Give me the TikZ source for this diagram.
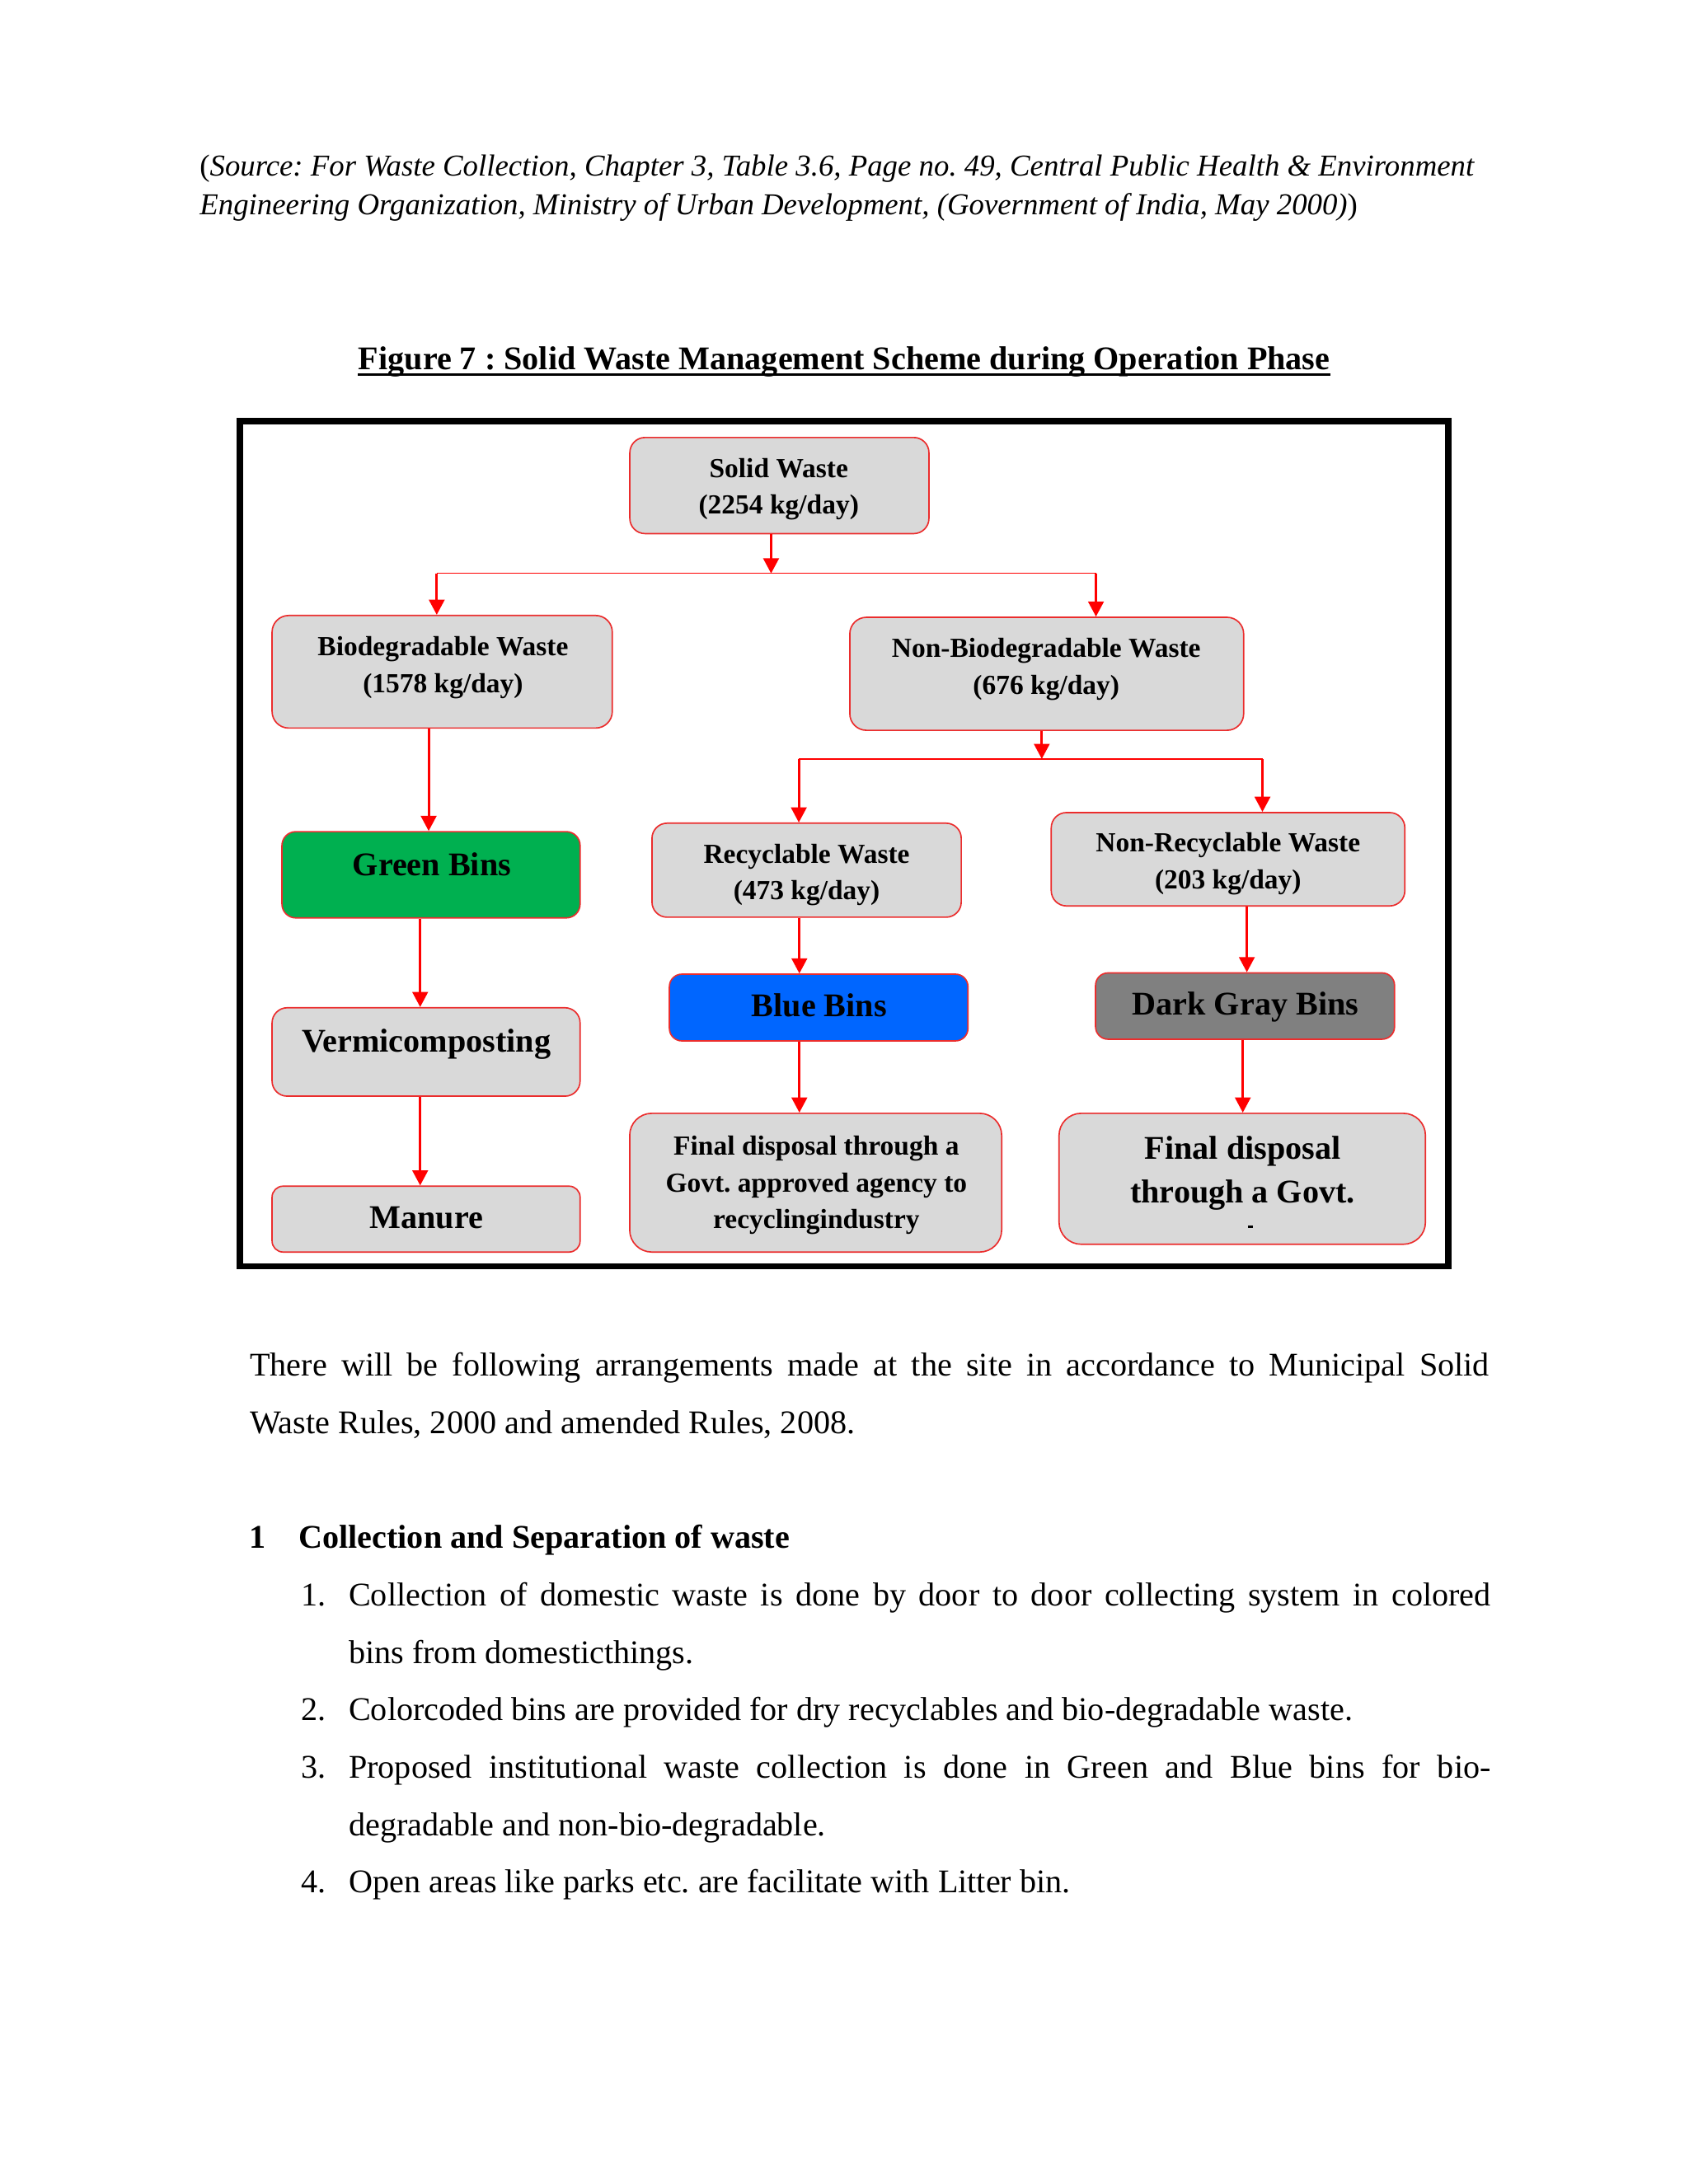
\documentclass[tikz,border=0pt]{standalone}
\usepackage{fontspec}
\setmainfont{Liberation Serif}
\usetikzlibrary{arrows.meta,fit}
\definecolor{boxgray}{RGB}{217,217,217}
\definecolor{bingreen}{RGB}{0,176,80}
\definecolor{binblue}{RGB}{0,102,255}
\definecolor{bingray}{RGB}{128,128,128}
\definecolor{edgered}{RGB}{235,45,45}
\frenchspacing
\begin{document}
\frenchspacing
\begin{tikzpicture}[x=0.50495pt,y=-0.50495pt,
  box/.style={draw=edgered, line width=0.5pt, fill=boxgray, inner sep=0pt, rounded corners=#1},
  box/.default=5pt,
  arr/.style={draw=red, line width=0.9pt, -{Triangle[length=5.5pt,width=5.6pt]}},
  conn/.style={draw=red, line width=0.4pt},
  lab/.style={anchor=base, inner sep=0pt, font=\bfseries\fontsize{10}{12}\selectfont},
  labL/.style={anchor=base, inner sep=0pt, font=\bfseries\fontsize{12}{14}\selectfont},
  body/.style={anchor=base west, inner sep=0pt, font=\fontsize{12}{14}\selectfont},
  bodyb/.style={anchor=base west, inner sep=0pt, font=\bfseries\fontsize{12}{14}\selectfont},
  src/.style={anchor=base west, inner sep=0pt, font=\itshape\fontsize{11}{13}\selectfont}
]
\useasboundingbox (0,0) rectangle (1212,1568);
\fill[white] (0,0) rectangle (1212,1568);

% source and title
\node[src] (src1) at (143,126.6) {\upshape(\itshape Source: For Waste Collection, Chapter 3, Table 3.6, Page no. 49, Central Public Health \& Environment};
\node[src] (src2) at (143,154.3) {Engineering Organization, Ministry of Urban Development, (Government of India, May 2000)\upshape)};
\node[labL] (title) at (606,265.3) {Figure 7 : Solid Waste Management Scheme during Operation Phase};
\draw[line width=0.9pt] ([yshift=-1.7pt]title.base west) -- ([yshift=-1.7pt]title.base east);

% frame
\draw[line width=2.3pt] (172.3,302.5) rectangle (1039.8,909.2);

% boxes
\node[box=5.5pt, fit={(452.1,314.1) (666.8,383.1)}] (solid) {};
\node[box=6pt, fit={(195.3,441.9) (439.5,522.7)}] (bio) {};
\node[box=6pt, fit={(610,443.2) (892.7,524.3)}] (nonbio) {};
\node[box=5pt, fill=bingreen, fit={(202.4,597.1) (416.4,659)}] (green) {};
\node[box=5.5pt, fit={(468,591) (690,658.5)}] (recyc) {};
\node[box=5.5pt, fit={(754.6,583.4) (1008.4,650.4)}] (nonrecyc) {};
\node[box=5.5pt, fit={(195.3,723.5) (416.4,787)}] (vermi) {};
\node[box=4.5pt, fill=binblue, fit={(480.5,699.4) (694.8,747.3)}] (blue) {};
\node[box=4.5pt, fill=bingray, fit={(786.4,698.5) (1001,746.1)}] (dgray) {};
\node[box=4pt, fit={(195.3,851.6) (416.4,898.9)}] (manure) {};
\node[box=8pt, fit={(452,799.3) (719,898.9)}] (final1) {};
\node[box=8pt, fit={(760.2,799.3) (1023.2,893.3)}] (final2) {};

% texts in boxes
\node[lab] (ts1) at (559,342.8) {Solid Waste};
\node[lab] (ts2) at (559,368.9) {(2254 kg/day)};
\node[lab] (tb1) at (318,470.5) {Biodegradable Waste};
\node[lab] (tb2) at (318,497.1) {(1578 kg/day)};
\node[lab] (tn1) at (751,471.8) {Non-Biodegradable Waste};
\node[lab] (tn2) at (751,498.5) {(676 kg/day)};
\node[labL] (tg) at (310,628.8) {Green Bins};
\node[lab] (tr1) at (579,619.7) {Recyclable Waste};
\node[lab] (tr2) at (579,645.9) {(473 kg/day)};
\node[lab] (tnr1) at (881.5,611.6) {Non-Recyclable Waste};
\node[lab] (tnr2) at (881.5,638.1) {(203 kg/day)};
\node[labL] (tv) at (306,755.1) {Vermicomposting};
\node[labL] (tbl) at (588,730.1) {Blue Bins};
\node[labL] (tdg) at (894,728.9) {Dark Gray Bins};
\node[labL] (tm) at (306,882.2) {Manure};
\node[lab] (tf1) at (586,829.5) {Final disposal through a};
\node[lab] (tf2) at (586,856) {Govt. approved agency to};
\node[lab] (tf3) at (586,882.2) {recyclingindustry};
\node[labL] (tg1) at (892,832.4) {Final disposal};
\node[labL] (tg2) at (892,863.8) {through a Govt.};
\fill (896,879.6) rectangle (899.5,881.6);

% junctions and guides
\coordinate (j1) at (553.5,411.7);
\coordinate (jL) at (313.5,411.7);
\coordinate (jR) at (786.7,411.7);
\coordinate (j2) at (747.8,544.9);
\coordinate (j2L) at (573.4,544.9);
\coordinate (j2R) at (906.2,544.9);
\coordinate (xb) at (307.7,0);
\coordinate (xv) at (301.6,0);
\coordinate (xr) at (573.8,0);
\coordinate (xn) at (895,0);
\coordinate (xd) at (892.1,0);

% connectors
\draw[conn] (jL) -- (jR);
\draw[conn] (j2L) -- (j2R);
\draw[arr] (solid.south -| j1) -- (j1);
\draw[arr] (jL) -- (jL |- bio.north);
\draw[arr] (jR) -- (jR |- nonbio.north);
\draw[arr] (bio.south -| xb) -- (green.north -| xb);
\draw[arr] (green.south -| xv) -- (vermi.north -| xv);
\draw[arr] (vermi.south -| xv) -- (manure.north -| xv);
\draw[arr] (nonbio.south -| j2) -- (j2);
\draw[arr] (j2L) -- (j2L |- recyc.north);
\draw[arr] (j2R) -- (j2R |- nonrecyc.north);
\draw[arr] (recyc.south -| xr) -- (blue.north -| xr);
\draw[arr] (blue.south -| xr) -- (final1.north -| xr);
\draw[arr] (nonrecyc.south -| xn) -- (dgray.north -| xn);
\draw[arr] (dgray.south -| xd) -- (final2.north -| xd);

% body text
\node[body] (p1) at (179,988) {\makebox[449.2pt][s]{There will be following arrangements made at the site in accordance to Municipal Solid}};
\node[body] (p2) at (179,1029.2) {Waste Rules, 2000 and amended Rules, 2008.};
\node[bodyb] (h1n) at (178.7,1111.7) {1};
\node[bodyb] (h1) at (214,1111.7) {Collection and Separation of waste};
\node[body] (n1) at (215.8,1152.9) {1.};
\node[body] (i1a) at (250,1152.9) {\makebox[413.9pt][s]{Collection of domestic waste is done by door to door collecting system in colored}};
\node[body] (i1b) at (250,1194.1) {bins from domesticthings.};
\node[body] (n2) at (215.8,1235.3) {2.};
\node[body] (i2) at (250,1235.3) {Colorcoded bins are provided for dry recyclables and bio-degradable waste.};
\node[body] (n3) at (215.8,1276.5) {3.};
\node[body] (i3a) at (250,1276.5) {\makebox[413.9pt][s]{Proposed institutional waste collection is done in Green and Blue bins for bio-}};
\node[body] (i3b) at (250,1317.7) {degradable and non-bio-degradable.};
\node[body] (n4) at (215.8,1358.9) {4.};
\node[body] (i4) at (250,1358.9) {Open areas like parks etc. are facilitate with Litter bin.};
\end{tikzpicture}
\end{document}
